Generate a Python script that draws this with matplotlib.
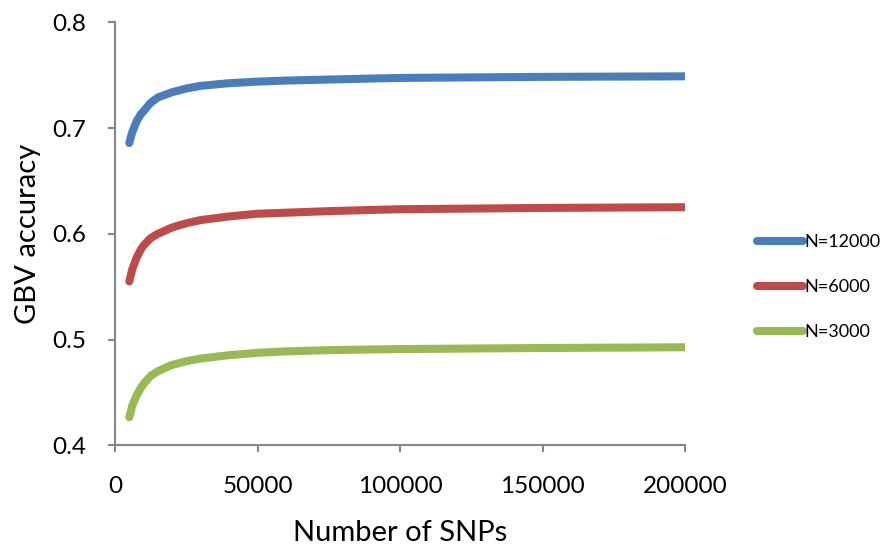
import matplotlib
matplotlib.use("Agg")
import matplotlib.pyplot as plt

# number of SNPs on the chip
snps = [5000, 6000, 7500, 9000, 10000, 12500, 15000, 20000, 25000, 30000,
        40000, 50000, 60000, 75000, 100000, 150000, 200000]

# accuracy of genomic breeding values for three reference sizes
acc_12000 = [0.686, 0.696, 0.706, 0.713, 0.716, 0.724, 0.729, 0.734, 0.7375,
             0.740, 0.7425, 0.744, 0.745, 0.746, 0.7475, 0.7485, 0.749]
acc_6000 = [0.555, 0.566, 0.577, 0.585, 0.589, 0.596, 0.600, 0.606, 0.610,
            0.613, 0.6165, 0.619, 0.620, 0.6215, 0.6233, 0.6245, 0.6252]
acc_3000 = [0.4265, 0.437, 0.447, 0.454, 0.458, 0.4656, 0.470, 0.476, 0.4795,
            0.482, 0.4852, 0.4875, 0.4888, 0.490, 0.491, 0.492, 0.4927]

labels = ["N=12000", "N=6000", "N=3000"]
colors = ["#4A7EBB", "#BE4B48", "#98B954"]

plt.rcParams["font.family"] = ["Lato", "DejaVu Sans"]

fig = plt.figure(figsize=(8.85, 5.47), dpi=100)
ax = fig.add_axes([0.130, 0.186, 0.644, 0.773])

for y, lab, c in zip([acc_12000, acc_6000, acc_3000], labels, colors):
    ax.plot(snps, y, color=c, lw=5.8, solid_capstyle="round",
            solid_joinstyle="round", label=lab)

ax.set_xlim(0, 200000)
ax.set_ylim(0.4, 0.8)
ax.set_xticks([0, 50000, 100000, 150000, 200000])
ax.set_yticks([0.4, 0.5, 0.6, 0.7, 0.8])
ax.set_xticklabels(["0", "50000", "100000", "150000", "200000"])
ax.set_yticklabels(["0.4", "0.5", "0.6", "0.7", "0.8"])

for s in ["top", "right"]:
    ax.spines[s].set_visible(False)
for s in ["left", "bottom"]:
    ax.spines[s].set_color("#868686")
    ax.spines[s].set_linewidth(1.5)

ax.tick_params(axis="both", direction="out", length=5, width=1.5,
               color="#868686", labelsize=17.5)
ax.tick_params(axis="x", pad=17)
ax.tick_params(axis="y", pad=16)

ax.set_xlabel("Number of SNPs", fontsize=21, labelpad=17)
ax.set_ylabel("GBV accuracy", fontsize=21, labelpad=8)

ax.legend(loc="center left", bbox_to_anchor=(1.0 + 72 / 570, 0.374),
          frameon=False, fontsize=13, handlelength=2.55, handletextpad=0.05,
          labelspacing=1.6, borderpad=0, borderaxespad=0)

fig.savefig("out.png", dpi=100)
